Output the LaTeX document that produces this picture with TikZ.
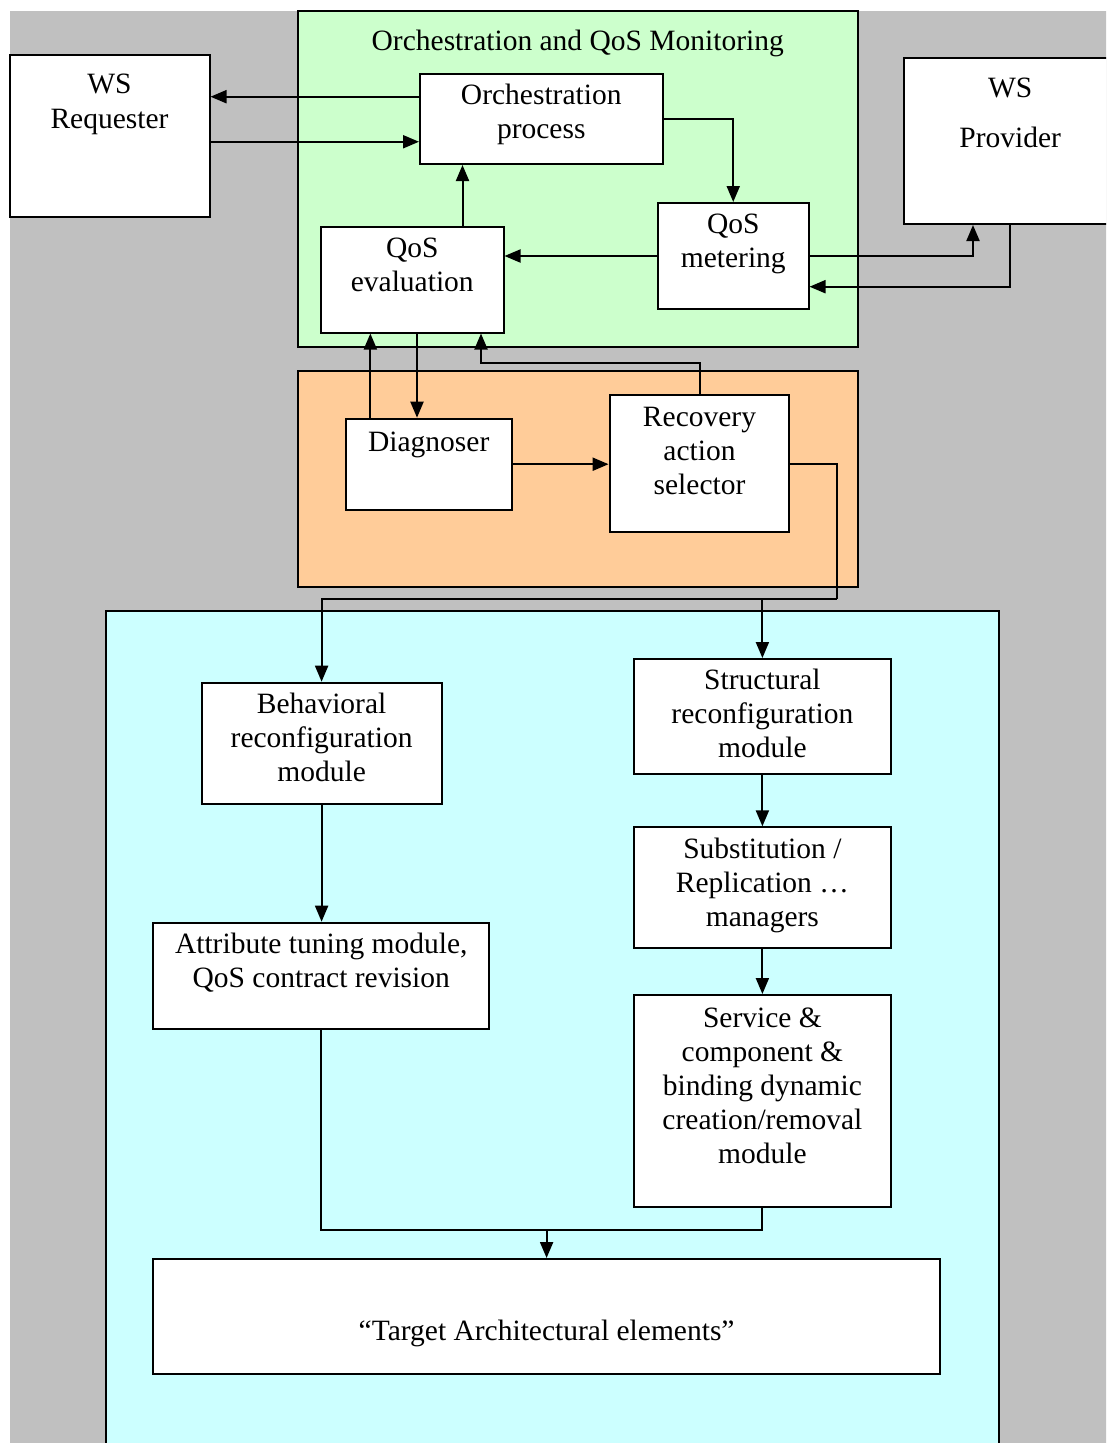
\documentclass[tikz,border=0pt]{standalone}
\usepackage{fontspec}
\setmainfont{Liberation Serif}
\usetikzlibrary{arrows.meta}

\definecolor{bggray}{HTML}{C0C0C0}
\definecolor{monitorgreen}{HTML}{CCFFCC}
\definecolor{diagorange}{HTML}{FFCC99}
\definecolor{reconfcyan}{HTML}{CCFFFF}

\tikzset{
  panel/.style={draw=black, line width=2pt, outer sep=0pt, inner sep=0pt},
  blk/.style={draw=black, fill=white, line width=2pt, inner sep=0pt},
  lbl/.style={anchor=north, align=center, inner sep=0pt, yshift=-11.3pt,
              execute at begin node=\strut},
  conn/.style={line width=2pt},
  arr/.style={conn, -{Triangle[length=16pt,width=13pt]}},
}

\begin{document}
\begin{tikzpicture}[x=1pt, y=-1pt, font=\fontsize{29.5}{34}\selectfont]
  \useasboundingbox (0,0) rectangle (1106,1443);
  \clip (0,0) rectangle (1106,1443);

  % background
  \fill[bggray] (10,11) rectangle (1120,1460);

  % panels
  \node[panel, fill=monitorgreen, minimum width=559.5pt, minimum height=335.5pt] (green) at (577.75,178.75) {};
  \node[anchor=base, yshift=-39.3pt, inner sep=0pt] (greentitle) at (green.north) {Orchestration and QoS Monitoring};
  \node[panel, fill=diagorange, minimum width=559.5pt, minimum height=215.5pt] (orange) at (577.75,478.75) {};
  \node[panel, fill=reconfcyan, minimum width=893.8pt, minimum height=859pt] (blue) at (552.4,1040.5) {};

  % outer actors (extra yshift adds to the label default)
  \node[blk, minimum width=200pt, minimum height=161.5pt] (req) at (109.5,135.75) {};
  \node[lbl, yshift=-8.5pt] (req-t) at (req.north) {WS\\[0.5pt]Requester};
  \node[blk, minimum width=211.7pt, minimum height=166.3pt] (prov) at (1010.2,140.85) {};
  \node[lbl, yshift=-9.5pt] (prov-t) at (prov.north) {WS\\[16.4pt]Provider};

  % monitoring blocks
  \node[blk, minimum width=242.5pt, minimum height=90pt] (orch) at (541.25,119) {};
  \node[lbl] (orch-t) at (orch.north) {Orchestration\\process};
  \node[blk, minimum width=150.5pt, minimum height=106pt] (meter) at (733.25,256) {};
  \node[lbl] (meter-t) at (meter.north) {QoS\\metering};
  \node[blk, minimum width=182.5pt, minimum height=105.5pt] (eval) at (412.25,279.75) {};
  \node[lbl] (eval-t) at (eval.north) {QoS\\evaluation};

  % diagnosis blocks
  \node[blk, minimum width=166.5pt, minimum height=91pt] (diag) at (428.75,464.2) {};
  \node[lbl, yshift=2pt] (diag-t) at (diag.north) {Diagnoser};
  \node[blk, minimum width=179.8pt, minimum height=137.3pt] (recov) at (699.5,463.65) {};
  \node[lbl, yshift=-2pt] (recov-t) at (recov.north) {Recovery\\action\\selector};

  % reconfiguration blocks
  \node[blk, minimum width=240.2pt, minimum height=121.3pt] (behav) at (321.6,743.35) {};
  \node[lbl] (behav-t) at (behav.north) {Behavioral\\reconfiguration\\module};
  \node[blk, minimum width=336pt, minimum height=106.3pt] (attr) at (321.3,975.85) {};
  \node[lbl] (attr-t) at (attr.north) {Attribute tuning module,\\QoS contract revision};
  \node[blk, minimum width=257.2pt, minimum height=114.7pt] (struct) at (762.4,716.35) {};
  \node[lbl] (struct-t) at (struct.north) {Structural\\reconfiguration\\module};
  \node[blk, minimum width=257.2pt, minimum height=120.7pt] (subst) at (762.4,887.65) {};
  \node[lbl] (subst-t) at (subst.north) {Substitution /\\Replication …\\managers};
  \node[blk, minimum width=257.2pt, minimum height=212.3pt] (serv) at (762.4,1101.15) {};
  \node[lbl, yshift=-2pt] (serv-t) at (serv.north) {Service \&\\component \&\\binding dynamic\\creation/removal\\module};
  \node[blk, minimum width=786.4pt, minimum height=115pt] (target) at (546.6,1316.5) {};
  \node[anchor=base, yshift=-82pt, inner sep=0pt] (target-t) at (target.north) {“Target Architectural elements”};

  % requester <-> orchestration
  \draw[arr] ([yshift=22.3pt]orch.west) -- ([yshift=22.3pt]orch.west -| req.east);
  \draw[arr] ([yshift=-6pt]req.east) -- ([yshift=-6pt]req.east -| orch.west);

  % monitoring loop
  \draw[arr] (orch.east) -| (meter.north);
  \draw[arr] (meter.west) -- (meter.west -| eval.east);
  \draw[arr] ([xshift=50.25pt]eval.north) -- ([xshift=50.25pt]eval.north |- orch.south);
  \draw[arr] (meter.east) -| ([xshift=-37.2pt]prov.south);
  \draw[arr] (prov.south) |- ([yshift=-30.7pt]meter.east);

  % evaluation <-> diagnosis
  \draw[arr] ([xshift=-58.4pt]diag.north) -- ([xshift=-58.4pt]diag.north |- eval.south);
  \draw[arr] ([xshift=4.75pt]eval.south) -- ([xshift=4.75pt]eval.south |- diag.north);
  \draw[arr] (recov.north) -- ++(0,-31) -| ([xshift=68.75pt]eval.south);
  \draw[arr] (diag.east) -- (diag.east -| recov.west);

  % recovery actions to reconfiguration modules
  \coordinate (busR) at (836.8,599.3);
  \draw[conn] (recov.east) -| (busR);
  \draw[arr] (busR) -| (behav.north);
  \draw[arr] (busR -| struct.north) -- (struct.north);

  \draw[arr] (behav.south) -- (behav.south |- attr.north);
  \draw[arr] (struct.south) -- (subst.north);
  \draw[arr] (subst.south) -- (serv.north);

  % merge into target elements
  \coordinate (merge) at (546.6,1230);
  \draw[conn] (attr.south) |- (merge -| serv.south) -- (serv.south);
  \draw[arr] (merge) -- (target.north);
\end{tikzpicture}
\end{document}
